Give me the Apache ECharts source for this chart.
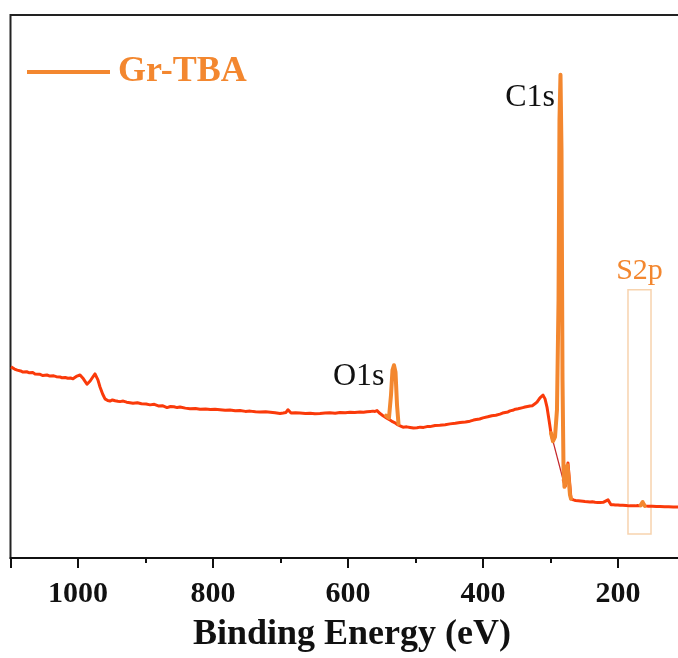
<!DOCTYPE html>
<html>
<head>
<meta charset="utf-8">
<script src="https://cdn.jsdelivr.net/npm/echarts@6/dist/echarts.min.js"></script>
<style>
  html, body { margin: 0; padding: 0; background: #fff; }
  #chart { width: 678px; height: 658px; }
</style>
</head>
<body>
<div id="chart"></div>
<script>
// XPS survey spectrum of Gr-TBA: binding energy (eV) vs intensity (a.u.)
const seriesName = 'Gr-TBA';

// Survey background trace (binding energy, intensity)
const surveyTrace = [
  [1099.3, 35.2], [1094, 34.8], [1090, 34.6], [1085, 34.45], [1081.5, 34.25], [1076, 34.3],
  [1072, 34.1], [1067, 34.15], [1063.7, 33.9], [1057, 33.85], [1052, 33.6], [1046, 33.7],
  [1041.5, 33.5], [1036, 33.55], [1032, 33.4], [1027, 33.35], [1023.7, 33.2], [1019, 33.25],
  [1015, 33.1], [1011, 33.15], [1007.4, 33.0], [1001.5, 33.5],
  [997, 33.7], [992, 33.0], [986.7, 32.0], [982, 32.6], [979.3, 33.1], [974.8, 33.9],
  [970.5, 32.8], [967.4, 31.5], [963.5, 30.2], [960, 29.3], [956, 29.0], [952.6, 28.9],
  [949, 29.1], [945, 28.95], [941, 28.85], [937.8, 28.8], [933, 28.9], [928, 28.7],
  [923, 28.6], [918.5, 28.5], [912, 28.6], [906, 28.4], [899, 28.35], [893.3, 28.2],
  [887, 28.3], [881, 28.0], [875, 28.05], [868.1, 27.7], [863, 27.9], [858, 27.85],
  [853, 27.7], [848.9, 27.8], [841, 27.6], [834, 27.5], [826, 27.55], [819.3, 27.4],
  [811, 27.45], [804, 27.35], [797, 27.4], [789.6, 27.3], [782, 27.2], [775, 27.25],
  [767, 27.1], [760, 27.15], [752, 27.0], [745, 27.05], [737, 26.95], [730.4, 26.9],
  [722, 26.95], [715, 26.85], [708, 26.75], [700.7, 26.6], [696, 26.7], [691.9, 26.8],
  [688.9, 27.3], [684.4, 26.7], [678, 26.75], [671.1, 26.7], [663, 26.6], [656, 26.65],
  [649, 26.55], [641.5, 26.6], [634, 26.7], [627, 26.75], [619, 26.65], [611.9, 26.8],
  [604, 26.75], [597, 26.85], [590, 26.8], [582.2, 26.9], [577, 26.85], [572, 26.95],
  [567, 27.0], [563, 27.05], [560, 27.0], [557, 27.15], [552.5, 26.6], [548.1, 26.2],
  [543, 25.8], [537.8, 25.4], [534, 25.1], [530.4, 24.9], [525.9, 24.5], [522, 24.3],
  [518.5, 24.1], [513, 24.15], [508, 24.05], [503, 23.95], [497.8, 24.0], [493, 24.1],
  [488, 24.05], [483, 24.2], [478.5, 24.2], [471, 24.4], [464, 24.45], [456, 24.55],
  [448.9, 24.7], [441, 24.8], [434, 24.95], [426, 25.05], [419.3, 25.2], [414, 25.4],
  [410, 25.5], [405, 25.6], [400, 25.8], [393, 26.0], [387, 26.2], [381, 26.3],
  [374.8, 26.5], [371, 26.7], [367, 26.8], [363, 26.9], [360, 27.1], [356, 27.2],
  [352, 27.4], [348, 27.5], [345.2, 27.6], [341, 27.7], [337.8, 27.8], [334, 27.9],
  [330.4, 28.0], [327, 28.05], [325.9, 28.1], [323, 28.4], [320, 28.7],
  [315.6, 29.5], [313, 29.8], [311.1, 30.0], [309.5, 29.8], [308.1, 29.3], [305.2, 27.8],
  [302.2, 25.4], [299.3, 23.0], [296.3, 21.5],
  null,
  [281.5, 14.5], [277.8, 13.3], [275.6, 15.8], [274.1, 17.5], [272.6, 15.3], [269.6, 10.9],
  [266, 10.7], [263, 10.6], [259, 10.55], [256.3, 10.5], [252, 10.45], [249, 10.4],
  [245, 10.35], [241.5, 10.3], [238, 10.35], [234, 10.25], [230, 10.2], [226.7, 10.2],
  [222, 10.25], [219.3, 10.3], [214.8, 10.7], [210.4, 9.8], [207, 9.8], [204, 9.75],
  [200, 9.75], [197, 9.7], [193, 9.7], [188, 9.65], [183, 9.6], [177.8, 9.6],
  [174, 9.6], [171, 9.65], [168, 9.6], [165.9, 9.7], [163, 10.1], [160, 9.6],
  [155, 9.55], [149, 9.55], [143, 9.5], [137.8, 9.5], [131, 9.45], [125, 9.45],
  [118, 9.4], [111.1, 9.4], [105, 9.4], [100, 9.4]
];

// Straight background join beneath the C 1s peak
const c1sBaseline = [[296.3, 21.5], [281.5, 14.5]];

// Core-level peak regions (O 1s, C 1s, S 2p)
const peakTrace = [
  [543.7, 26.2], [539.3, 25.8], [536.3, 30.0], [534.1, 34.6], [531.9, 35.5],
  [529.6, 34.2], [527.4, 28.2], [525.2, 24.7],
  null,
  [299.3, 23.0], [296.3, 21.5], [293.3, 22.3], [290.4, 27.3], [288.1, 47.5],
  [286.7, 80.7], [285.2, 89.0], [283.7, 75.1], [282.2, 32.8], [280.7, 16.2],
  [279.3, 13.1], [277.0, 14.4], [274.8, 17.1], [273.3, 17.1], [271.1, 11.6], [269.6, 10.9],
  null,
  [166.5, 9.7], [163.5, 10.3], [160.5, 9.6]
];

// Peak labels and the S 2p window
const peakLabels = [
  { name: 'C1s', coord: [285.2, 89.0], offset: [0, 23] },
  { name: 'O1s', coord: [531.9, 35.5], offset: [-4, 11] }
];
const s2pWindow = { name: 'S2p', from: [185.2, 49.4], to: [151.1, 4.4] };

const xTicks = { min: 0, max: 1100, interval: 200 };
const axisTitle = 'Binding Energy (eV)';

const ORANGE = '#F3872F';
const RED = '#FA3A0A';
const SERIF = '"Liberation Serif", "Times New Roman", serif';

const chart = echarts.init(document.getElementById('chart'), null, { renderer: 'canvas' });

chart.setOption({
  animation: false,
  backgroundColor: '#ffffff',
  title: {
    text: axisTitle,
    left: 347,
    textAlign: 'center',
    top: 612,
    textStyle: { fontFamily: SERIF, fontWeight: 'bold', fontSize: 36, color: '#111' }
  },
  legend: {
    data: [seriesName],
    left: 22,
    top: 49,
    icon: 'rect',
    itemWidth: 83,
    itemHeight: 4,
    textStyle: {
      fontFamily: SERIF, fontWeight: 'bold', fontSize: 36, color: ORANGE,
      padding: [0, 0, 0, 3]
    }
  },
  grid: {
    left: 10.5, top: 15, width: 742.5, height: 543,
    outerBoundsMode: 'none',
    containLabel: false,
    show: true, borderColor: '#222', borderWidth: 2, backgroundColor: 'transparent'
  },
  xAxis: {
    type: 'value',
    inverse: true,
    min: xTicks.min,
    max: xTicks.max,
    interval: xTicks.interval,
    axisLine: { show: true, onZero: false, lineStyle: { color: '#111', width: 2 } },
    axisTick: { show: true, length: 10, lineStyle: { color: '#111', width: 2 } },
    minorTick: { show: true, splitNumber: 2, length: 5, lineStyle: { color: '#111', width: 2 } },
    splitLine: { show: false },
    axisLabel: {
      margin: 21,
      fontFamily: SERIF, fontWeight: 'bold', fontSize: 30, color: '#111',
      formatter: v => (v % 200 === 0 ? String(v) : '')
    }
  },
  yAxis: {
    type: 'value',
    min: 0,
    max: 100,
    axisLine: { show: false },
    axisTick: { show: false },
    axisLabel: { show: false },
    splitLine: { show: false }
  },
  series: [
    {
      name: seriesName,
      type: 'line',
      data: peakTrace,
      symbol: 'none',
      connectNulls: false,
      z: 3,
      color: ORANGE,
      lineStyle: { color: ORANGE, width: 4, join: 'round', cap: 'round' },
      markPoint: {
        symbol: 'circle',
        symbolSize: 1,
        itemStyle: { color: 'rgba(0,0,0,0)' },
        label: {
          show: true,
          position: 'left',
          distance: 5,
          fontFamily: SERIF, fontSize: 32, color: '#111',
          formatter: p => p.name
        },
        data: peakLabels.map(d => ({
          name: d.name, coord: d.coord, label: { offset: d.offset }
        }))
      },
      markArea: {
        silent: true,
        itemStyle: { color: 'rgba(0,0,0,0)', borderColor: '#F7D3AE', borderWidth: 1.5 },
        label: {
          show: true, position: 'top', distance: 3,
          fontFamily: SERIF, fontSize: 30, color: ORANGE
        },
        data: [[
          { name: s2pWindow.name, coord: s2pWindow.from },
          { coord: s2pWindow.to }
        ]]
      }
    },
    {
      name: 'survey',
      type: 'line',
      data: surveyTrace,
      symbol: 'none',
      connectNulls: false,
      z: 2,
      lineStyle: { color: RED, width: 3, join: 'round' }
    },
    {
      name: 'baseline',
      type: 'line',
      data: c1sBaseline,
      symbol: 'none',
      z: 1,
      lineStyle: { color: '#C4262A', width: 1.2 }
    }
  ]
});
</script>
</body>
</html>
